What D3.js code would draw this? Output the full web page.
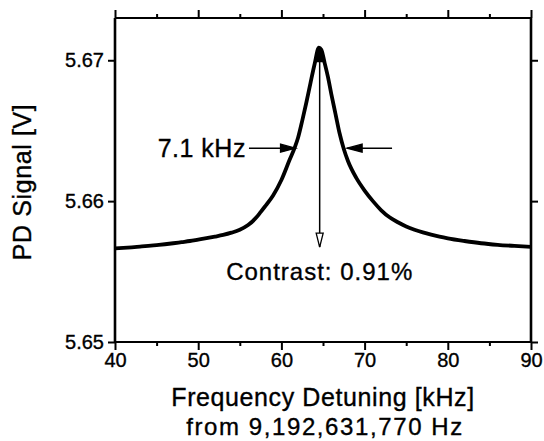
<!DOCTYPE html>
<html>
<head>
<meta charset="utf-8">
<script src="https://cdn.jsdelivr.net/npm/d3@7/dist/d3.min.js"></script>
<style>
  html, body { margin: 0; padding: 0; background: #fff; }
  svg text { font-family: "Liberation Sans", Arial, Helvetica, sans-serif; fill: #000; }
</style>
</head>
<body>
<svg id="chart" width="544" height="441"></svg>
<script>
// ---- data ----
const detuningKHz = [40, 41, 42, 43, 44, 45, 46, 47, 48, 49, 50, 51, 52, 53, 54, 55, 56, 57, 57.5, 58, 59, 60, 61, 61.6, 62, 62.5, 63, 63.5, 64, 64.5, 64.8, 65.2, 65.6, 66, 66.5, 67, 67.5, 68, 69, 70, 71, 72, 73, 74, 75, 76, 77, 78, 79, 80, 82, 84, 86, 88, 90];
const pdSignalV = [5.65665, 5.65668, 5.65672, 5.65677, 5.65682, 5.65688, 5.65694, 5.65701, 5.65709, 5.65717, 5.65727, 5.65737, 5.65748, 5.65760, 5.65776, 5.65797, 5.65830, 5.65885, 5.65922, 5.65960, 5.66040, 5.66150, 5.66295, 5.66380, 5.66450, 5.66570, 5.66700, 5.66840, 5.66975, 5.67090, 5.67075, 5.66980, 5.66880, 5.66760, 5.66620, 5.66480, 5.66370, 5.66285, 5.66165, 5.66075, 5.66000, 5.65935, 5.65885, 5.65850, 5.65820, 5.65797, 5.65778, 5.65762, 5.65748, 5.65736, 5.65717, 5.65701, 5.65690, 5.65682, 5.65675];

const xMajorTicks = [40, 50, 60, 70, 80, 90];
const xMinorTicks = [45, 55, 65, 75, 85];
const yTicks = [5.65, 5.66, 5.67];
const xDomain = [40, 90];
const yDomain = [5.65, 5.673];

// annotation anchors (data units)
const peakKHz = 64.6;
const peakV = 5.6709;
const baseV = 5.65674;
const halfV = 5.66376;
const fwhmLeft = [56.1, 61.7];   // tail, tip
const fwhmRight = [73.3, 67.9];  // tail, tip
const fwhmLabel = "7.1 kHz";
const contrastLabel = "Contrast: 0.91%";
const contrastLabelV = 5.6544;
const xTitle = "Frequency Detuning [kHz]";
const xSubTitle = "from 9,192,631,770 Hz";
const yTitle = "PD Signal [V]";

// ---- layout ----
const L = 115, R = 531, T = 18, B = 342;
const svg = d3.select("#chart");
const x = d3.scaleLinear().domain(xDomain).range([L, R]);
const y = d3.scaleLinear().domain(yDomain).range([B, T]);

function styleAxis(g, sw) {
  g.select(".domain").remove();
  g.selectAll(".tick line").attr("stroke", "#000").attr("stroke-width", sw);
  g.selectAll(".tick text").attr("fill", "#000");
}
function heavy(sel) { return sel.attr("stroke", "#000").attr("stroke-width", 0.35); }

// bottom axis
svg.append("g").attr("transform", `translate(0,${B})`)
  .call(d3.axisBottom(x).tickValues(xMajorTicks).tickSize(8).tickPadding(3).tickFormat(d3.format("d")))
  .call(g => { styleAxis(g, 2); heavy(g.selectAll("text").attr("font-size", 20).attr("font-family", "Liberation Sans, Arial, sans-serif")); });
svg.append("g").attr("transform", `translate(0,${B})`)
  .call(d3.axisBottom(x).tickValues(xMinorTicks).tickSize(4).tickFormat(""))
  .call(g => styleAxis(g, 2));
// top axis
svg.append("g").attr("transform", `translate(0,${T})`)
  .call(d3.axisTop(x).tickValues(xMajorTicks).tickSize(8).tickFormat(""))
  .call(g => styleAxis(g, 2));
svg.append("g").attr("transform", `translate(0,${T})`)
  .call(d3.axisTop(x).tickValues(xMinorTicks).tickSize(4).tickFormat(""))
  .call(g => styleAxis(g, 2));
// left axis
svg.append("g").attr("transform", `translate(${L},0)`)
  .call(d3.axisLeft(y).tickValues(yTicks).tickSize(7).tickPadding(4).tickFormat(d3.format(".2f")))
  .call(g => { styleAxis(g, 2); heavy(g.selectAll("text").attr("font-size", 20).attr("font-family", "Liberation Sans, Arial, sans-serif")); });
// right axis
svg.append("g").attr("transform", `translate(${R},0)`)
  .call(d3.axisRight(y).tickValues(yTicks).tickSize(7).tickFormat(""))
  .call(g => styleAxis(g, 2));

// frame
svg.append("line").attr("x1", L).attr("x2", R).attr("y1", T).attr("y2", T).attr("stroke", "#000").attr("stroke-width", 2);
svg.append("line").attr("x1", L).attr("x2", R).attr("y1", B).attr("y2", B).attr("stroke", "#000").attr("stroke-width", 2);
svg.append("line").attr("x1", L).attr("x2", L).attr("y1", T).attr("y2", B).attr("stroke", "#000").attr("stroke-width", 2.6);
svg.append("line").attr("x1", R).attr("x2", R).attr("y1", T).attr("y2", B).attr("stroke", "#000").attr("stroke-width", 2.6);

// data line
const line = d3.line().x((d, i) => x(detuningKHz[i])).y(d => y(d)).curve(d3.curveMonotoneX);
svg.append("path").datum(pdSignalV)
  .attr("d", line)
  .attr("fill", "none").attr("stroke", "#000").attr("stroke-width", 3.8)
  .attr("stroke-linejoin", "round");

// arrow helpers
function arrowHead(tipX, tipY, dirX, dirY, len, half, filled) {
  const bx = tipX - dirX * len, by = tipY - dirY * len;
  const px = -dirY, py = dirX;
  const p = d3.path();
  p.moveTo(tipX, tipY);
  p.lineTo(bx + px * half, by + py * half);
  p.lineTo(bx - px * half, by - py * half);
  p.closePath();
  svg.append("path").attr("d", p.toString())
    .attr("fill", filled ? "#000" : "#fff").attr("stroke", "#000").attr("stroke-width", 1.3);
}

// vertical contrast arrow
const vx = x(peakKHz);
svg.append("line").attr("x1", vx).attr("x2", vx).attr("y1", y(peakV)).attr("y2", y(baseV))
  .attr("stroke", "#000").attr("stroke-width", 1.5);
arrowHead(vx, y(peakV), 0, -1, 14, 3.5, true);
arrowHead(vx, y(baseV), 0, 1, 14, 3.5, false);

// FWHM arrows
const hy = y(halfV);
svg.append("line").attr("x1", x(fwhmLeft[0])).attr("x2", x(fwhmLeft[1])).attr("y1", hy).attr("y2", hy)
  .attr("stroke", "#000").attr("stroke-width", 1.5);
arrowHead(x(fwhmLeft[1]), hy, 1, 0, 15, 4, true);
svg.append("line").attr("x1", x(fwhmRight[0])).attr("x2", x(fwhmRight[1])).attr("y1", hy).attr("y2", hy)
  .attr("stroke", "#000").attr("stroke-width", 1.5);
arrowHead(x(fwhmRight[1]), hy, -1, 0, 15, 4, true);

// annotation labels
heavy(svg.append("text").attr("x", x(fwhmLeft[0]) - 3).attr("y", hy + 9)
  .attr("text-anchor", "end").attr("font-size", 25).attr("letter-spacing", 0.5).text(fwhmLabel));
heavy(svg.append("text").attr("x", x(peakKHz)).attr("y", y(contrastLabelV))
  .attr("text-anchor", "middle").attr("font-size", 24).attr("letter-spacing", 1).text(contrastLabel));

// axis titles
heavy(svg.append("text").attr("x", 323).attr("y", 406)
  .attr("text-anchor", "middle").attr("font-size", 25).attr("letter-spacing", 0.6).text(xTitle));
heavy(svg.append("text").attr("x", 325).attr("y", 435)
  .attr("text-anchor", "middle").attr("font-size", 24).attr("letter-spacing", 1.6).text(xSubTitle));
heavy(svg.append("text").attr("transform", "translate(31,182) rotate(-90)")
  .attr("text-anchor", "middle").attr("font-size", 25).attr("letter-spacing", 0.6).text(yTitle));
</script>
</body>
</html>
